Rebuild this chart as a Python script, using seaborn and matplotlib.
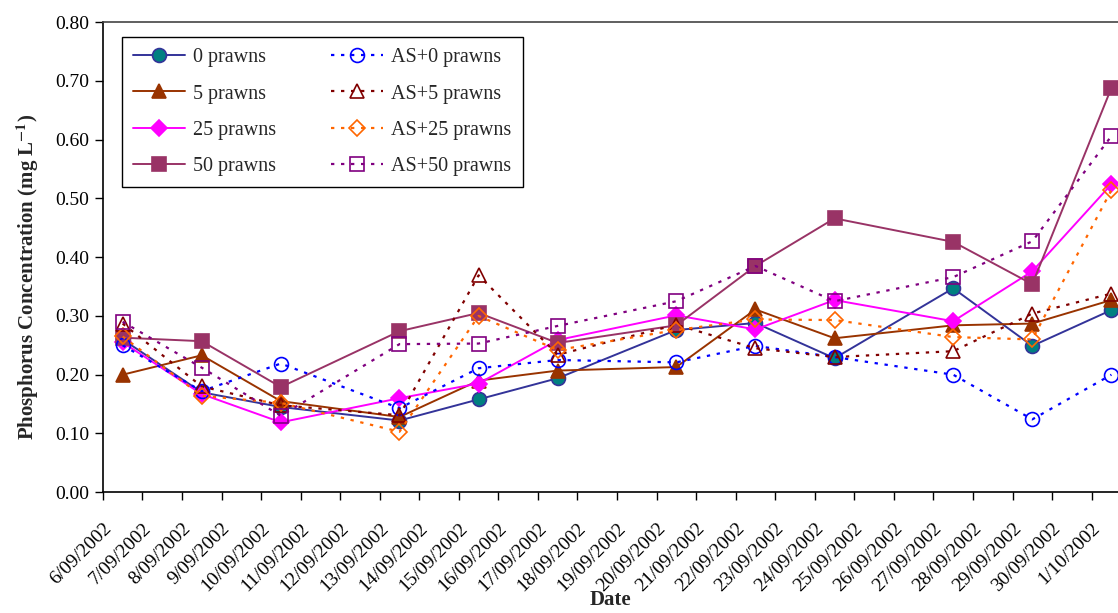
import pandas as pd
import numpy as np
import seaborn as sns
import matplotlib.pyplot as plt
import matplotlib.dates as mdates

sns.set_style('ticks')
plt.rcParams['font.family'] = ['Liberation Serif', 'DejaVu Serif']
plt.rcParams['mathtext.fontset'] = 'stix'

dates = ['2002-09-06', '2002-09-08', '2002-09-10', '2002-09-13', '2002-09-15', '2002-09-17',
         '2002-09-20', '2002-09-22', '2002-09-24', '2002-09-27', '2002-09-29', '2002-10-01']

p0 = [0.26, 0.170, 0.145, 0.122, 0.158, 0.194, 0.276, 0.288, 0.228, 0.347, 0.249, 0.310]
p5 = [0.200, 0.233, 0.155, 0.128, 0.190, 0.207, 0.213, 0.311, 0.262, 0.284, 0.287, 0.327]
p25 = [0.255, 0.167, 0.119, 0.160, 0.185, 0.259, 0.301, 0.277, 0.327, 0.291, 0.376, 0.524]
p50 = [0.263, 0.257, 0.179, 0.274, 0.305, 0.254, 0.284, 0.385, 0.466, 0.426, 0.354, 0.688]
as0 = [0.250, 0.172, 0.219, 0.143, 0.211, 0.225, 0.221, 0.249, 0.230, 0.200, 0.124, 0.200]
as5 = [0.287, 0.180, 0.148, 0.131, 0.369, 0.234, 0.285, 0.245, 0.230, 0.240, 0.304, 0.338]
as25 = [0.265, 0.164, 0.152, 0.103, 0.300, 0.242, 0.276, 0.294, 0.293, 0.264, 0.260, 0.514]
as50 = [0.290, 0.212, 0.130, 0.252, 0.253, 0.283, 0.325, 0.385, 0.325, 0.366, 0.427, 0.606]

# samples sit in the middle of each day on the date axis
when = pd.to_datetime(dates) + pd.Timedelta(hours=12)

fig, ax = plt.subplots(figsize=(11.18, 6.13), dpi=100)
fig.subplots_adjust(left=0.092, right=1.0, bottom=0.197, top=0.964)

solid = [('0 prawns', p0, '#333399', 'o', '#008080'),
         ('5 prawns', p5, '#993300', '^', '#993300'),
         ('25 prawns', p25, '#FF00FF', 'D', '#FF00FF'),
         ('50 prawns', p50, '#993366', 's', '#993366')]
dotted = [('AS+0 prawns', as0, '#0000FF', 'o'),
          ('AS+5 prawns', as5, '#800000', '^'),
          ('AS+25 prawns', as25, '#FF6600', 'D'),
          ('AS+50 prawns', as50, '#800080', 's')]

for name, vals, col, mk, fill in solid:
    sz = 8 if mk == 'D' else 10
    sns.lineplot(x=when, y=vals, ax=ax, color=col, lw=1.4, marker=mk, markersize=sz,
                 markerfacecolor=fill, markeredgecolor=col if mk != 'o' else '#333399',
                 markeredgewidth=1.2, label=name)
for name, vals, col, mk in dotted:
    sz = 8 if mk == 'D' else 10
    sns.lineplot(x=when, y=vals, ax=ax, color=col, lw=1.6, linestyle=(0, (1.5, 3)), marker=mk,
                 markersize=sz, markerfacecolor='none', markeredgecolor=col,
                 markeredgewidth=1.2, label=name)

ax.set_ylim(0, 0.8)
ax.set_yticks(np.arange(0, 0.81, 0.1))
ax.yaxis.set_major_formatter(plt.FuncFormatter(lambda v, p: f'{v:.2f}'))
ax.set_xlim(pd.Timestamp('2002-09-06'), pd.Timestamp('2002-10-01') + pd.Timedelta(hours=16))
ax.xaxis.set_major_locator(mdates.DayLocator())
ax.xaxis.set_major_formatter(mdates.DateFormatter('%-d/%m/%Y'))
for lab in ax.get_xticklabels():
    lab.set_rotation(45)
    lab.set_ha('right')
    lab.set_rotation_mode('anchor')
ax.tick_params(axis='both', labelsize=14, direction='out', length=6, width=1, colors='black')
ax.tick_params(axis='x', pad=14)
ax.tick_params(axis='y', pad=4)
ax.spines['right'].set_visible(False)
ax.spines['top'].set_color('#444444')
ax.spines['top'].set_linewidth(1.2)
for s in ['left', 'bottom']:
    ax.spines[s].set_color('black')
    ax.spines[s].set_linewidth(1.2)

ax.set_xlabel('Date', fontsize=15, fontweight='bold', labelpad=-4)
ax.set_ylabel(r'Phosphorus Concentration (mg L$^{\mathbf{-1}}$)', fontsize=15, fontweight='bold')
ax.yaxis.set_label_coords(-0.061, 0.457)

h, l = ax.get_legend_handles_labels()
leg = ax.legend(h, l, ncol=2, loc='upper left', bbox_to_anchor=(0.0187, 0.968), fontsize=14.5,
                frameon=True, fancybox=False, edgecolor='black', framealpha=1,
                handlelength=2.6, handletextpad=0.4, columnspacing=2.7, labelspacing=0.85,
                borderpad=0.55, borderaxespad=0)
leg.get_frame().set_linewidth(1.0)

fig.savefig('out.png', dpi=100)
